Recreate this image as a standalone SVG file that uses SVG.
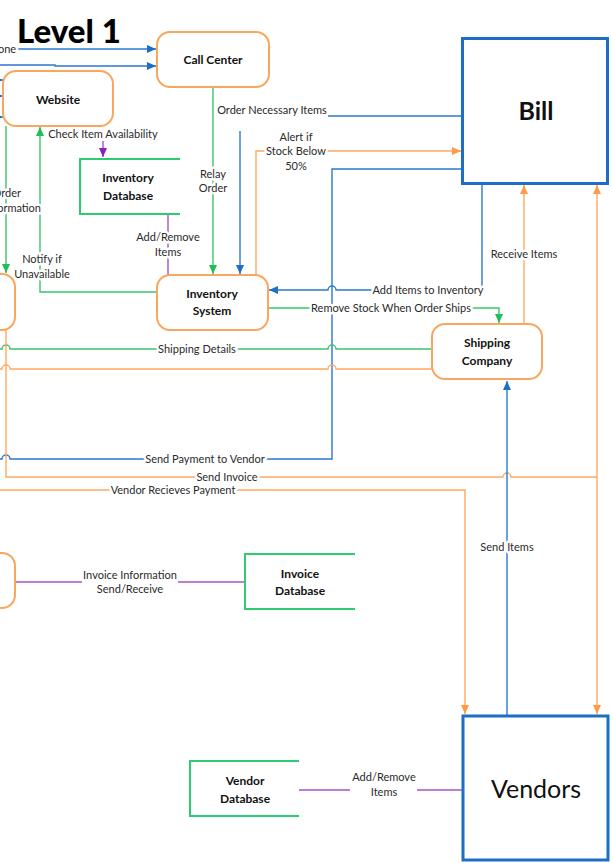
<svg xmlns="http://www.w3.org/2000/svg" width="612" height="863" viewBox="0 0 612 863">
  <style>
    .proc { fill: #fff; stroke: #f9a65e; stroke-width: 2; }
    .ext { fill: #fff; stroke: #1d6fc4; stroke-width: 3; }
    .store { fill: none; stroke: #2ecc71; stroke-width: 2; }
    .node-text { font-family: Lato, "Liberation Sans", sans-serif; font-size: 12px; font-weight: bold; fill: #111; text-anchor: middle; }
    .big-text { font-family: Lato, "Liberation Sans", sans-serif; font-size: 25px; fill: #111; text-anchor: middle; }
    .label { font-family: Lato, "Liberation Sans", sans-serif; font-size: 11px; fill: #2a2a2a; text-anchor: middle; paint-order: stroke; stroke: #fff; stroke-width: 5px; stroke-linejoin: round; }
    .c { fill: none; stroke-width: 1.4; }
    .blue { stroke: #2b78d0; }
    .orange { stroke: #ffa862; }
    .green { stroke: #3cc46c; }
    .purple { stroke: #a655c8; }
  </style>
  <defs>
    <marker id="ah-blue" markerUnits="userSpaceOnUse" markerWidth="10" markerHeight="8" refX="9" refY="4" orient="auto">
      <path d="M0,0 L9,4 L0,8 z" fill="#1d6fc4"/>
    </marker>
    <marker id="ah-orange" markerUnits="userSpaceOnUse" markerWidth="10" markerHeight="8" refX="9" refY="4" orient="auto">
      <path d="M0,0 L9,4 L0,8 z" fill="#ff9a45"/>
    </marker>
    <marker id="ah-green" markerUnits="userSpaceOnUse" markerWidth="10" markerHeight="8" refX="9" refY="4" orient="auto">
      <path d="M0,0 L9,4 L0,8 z" fill="#1fbf55"/>
    </marker>
    <marker id="ah-purple" markerUnits="userSpaceOnUse" markerWidth="10" markerHeight="8" refX="9" refY="4" orient="auto">
      <path d="M0,0 L9,4 L0,8 z" fill="#8a1fb8"/>
    </marker>
  </defs>

  <rect width="612" height="863" fill="#fff"/>

  <text x="17" y="43" font-family="Lato, 'Liberation Sans', sans-serif" font-size="33" font-weight="900" fill="#000">Level 1</text>

  <!-- connectors -->
  <g id="connectors">
    <!-- phone and second feed into call center -->
    <path class="c blue" d="M0,49 H156" marker-end="url(#ah-blue)"/>
    <path class="c blue" d="M0,65 H55 V66 H156" marker-end="url(#ah-blue)"/>
    <!-- feeds into website -->
    <path class="c blue" d="M-8,80 H3" marker-end="url(#ah-blue)"/>
    <path class="c blue" d="M-8,96 H3" marker-end="url(#ah-blue)"/>
    <path class="c blue" d="M-8,117 H3" marker-end="url(#ah-blue)"/>

    <!-- website to order node -->
    <path class="c green" d="M6,126 V273" marker-end="url(#ah-green)"/>
    <!-- notify if unavailable -->
    <path class="c green" d="M157,292 H40 V127" marker-end="url(#ah-green)"/>
    <!-- check item availability -->
    <path class="c purple" d="M103,141 V157" marker-end="url(#ah-purple)"/>
    <!-- inventory database to inventory system -->
    <path class="c purple" d="M168,214 V275"/>
    <!-- relay order -->
    <path class="c green" d="M213,87 V274" marker-end="url(#ah-green)"/>
    <!-- order necessary items -->
    <path class="c blue" d="M462,116 H328"/>
    <path class="c blue" d="M240,131 V274" marker-end="url(#ah-blue)"/>
    <!-- alert if stock below 50% -->
    <path class="c orange" d="M256,275 V151 H461" marker-end="url(#ah-orange)"/>
    <!-- send payment to vendor -->
    <path class="c blue" d="M462,169 H332 V459 H10 a4,4 0 0 0 -8,0 H0"/>
    <!-- add items to inventory -->
    <path class="c blue" d="M482,183 V290 H336 a4,4 0 0 0 -8,0 H269" marker-end="url(#ah-blue)"/>
    <!-- remove stock when order ships -->
    <path class="c green" d="M268,308 H499 V323" marker-end="url(#ah-green)"/>
    <!-- receive items -->
    <path class="c orange" d="M524,324 V185" marker-end="url(#ah-orange)"/>
    <!-- shipping details -->
    <path class="c green" d="M432,349 H336 a4,4 0 0 0 -8,0 H10 a4,4 0 0 0 -8,0 H0"/>
    <!-- shipping company back to order node -->
    <path class="c orange" d="M432,369 H336 a4,4 0 0 0 -8,0 H10 a4,4 0 0 0 -8,0 H0"/>
    <!-- send invoice -->
    <path class="c orange" d="M6,330 V477 H503 a4,4 0 0 1 8,0 H597"/>
    <path class="c orange" d="M597,477 V185" marker-end="url(#ah-orange)"/>
    <path class="c orange" d="M597,477 V714" marker-end="url(#ah-orange)"/>
    <!-- vendor receives payment -->
    <path class="c orange" d="M0,490 H465 V714" marker-end="url(#ah-orange)"/>
    <!-- send items -->
    <path class="c blue" d="M507,716 V381" marker-end="url(#ah-blue)"/>
    <!-- invoice information -->
    <path class="c purple" d="M15,582 H82 M178,582 H245"/>
    <!-- vendor database to vendors -->
    <path class="c purple" d="M299,790 H350 M417,790 H463"/>

    <!-- connector labels -->
    <text class="label" x="7" y="53">one</text>
    <text class="label" x="103" y="138">Check Item Availability</text>
    <text class="label" x="21" y="197" style="text-anchor:end">Order</text>
    <text class="label" x="41" y="212" style="text-anchor:end">Information</text>
    <text class="label" x="42" y="263">Notify if</text>
    <text class="label" x="42" y="278">Unavailable</text>
    <text class="label" x="168" y="241">Add/Remove</text>
    <text class="label" x="168" y="256">Items</text>
    <text class="label" x="213" y="178">Relay</text>
    <text class="label" x="213" y="192">Order</text>
    <text class="label" x="272" y="114">Order Necessary Items</text>
    <text class="label" x="296" y="141">Alert if</text>
    <text class="label" x="296" y="155">Stock Below</text>
    <text class="label" x="296" y="170">50%</text>
    <text class="label" x="428" y="294">Add Items to Inventory</text>
    <text class="label" x="391" y="312">Remove Stock When Order Ships</text>
    <text class="label" x="524" y="258">Receive Items</text>
    <text class="label" x="197" y="353">Shipping Details</text>
    <text class="label" x="205" y="463">Send Payment to Vendor</text>
    <text class="label" x="227" y="481">Send Invoice</text>
    <text class="label" x="173" y="494">Vendor Recieves Payment</text>
    <text class="label" x="507" y="551">Send Items</text>
    <text class="label" x="130" y="579">Invoice Information</text>
    <text class="label" x="130" y="593">Send/Receive</text>
    <text class="label" x="384" y="781">Add/Remove</text>
    <text class="label" x="384" y="796">Items</text>
  </g>

  <!-- processes -->
  <g id="call-center">
    <rect class="proc" x="157" y="32" width="112" height="55" rx="13"/>
    <text class="node-text" x="213" y="64">Call Center</text>
  </g>
  <g id="website">
    <rect class="proc" x="3" y="71" width="110" height="55" rx="13"/>
    <text class="node-text" x="58" y="104">Website</text>
  </g>
  <g id="order-process">
    <rect class="proc" x="-45" y="274" width="60" height="56" rx="13"/>
  </g>
  <g id="inventory-system">
    <rect class="proc" x="157" y="275" width="111" height="55" rx="13"/>
    <text class="node-text" x="212" y="298">Inventory</text>
    <text class="node-text" x="212" y="315">System</text>
  </g>
  <g id="shipping-company">
    <rect class="proc" x="432" y="324" width="110" height="55" rx="13"/>
    <text class="node-text" x="487" y="347">Shipping</text>
    <text class="node-text" x="487" y="365">Company</text>
  </g>
  <g id="invoice-process">
    <rect class="proc" x="-45" y="553" width="60" height="55" rx="13"/>
  </g>

  <!-- data stores -->
  <g id="inventory-database">
    <path class="store" d="M180,159 H80 V214 H180"/>
    <text class="node-text" x="128" y="182">Inventory</text>
    <text class="node-text" x="128" y="200">Database</text>
  </g>
  <g id="invoice-database">
    <path class="store" d="M355,554 H245 V609 H355"/>
    <text class="node-text" x="300" y="578">Invoice</text>
    <text class="node-text" x="300" y="595">Database</text>
  </g>
  <g id="vendor-database">
    <path class="store" d="M299,761 H190 V816 H299"/>
    <text class="node-text" x="245" y="785">Vendor</text>
    <text class="node-text" x="245" y="803">Database</text>
  </g>

  <!-- external entities -->
  <g id="bill">
    <rect class="ext" x="462.5" y="38.5" width="145" height="145"/>
    <text class="big-text" x="536" y="120" font-weight="bold">Bill</text>
  </g>
  <g id="vendors">
    <rect class="ext" x="463" y="716" width="145" height="144"/>
    <text class="big-text" x="536" y="798">Vendors</text>
  </g>
</svg>
